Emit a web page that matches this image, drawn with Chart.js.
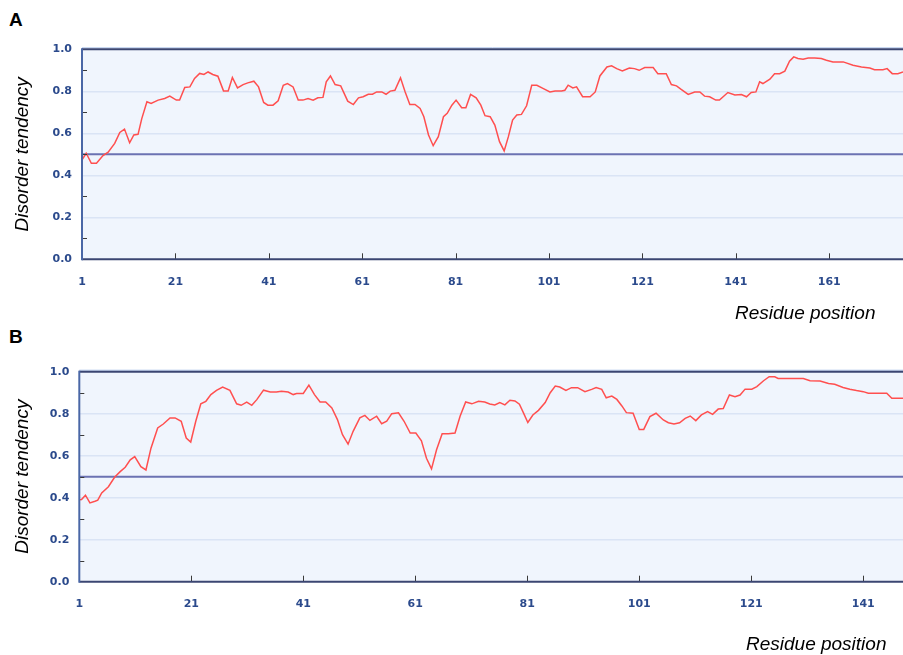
<!DOCTYPE html>
<html>
<head>
<meta charset="utf-8">
<script src="https://cdn.jsdelivr.net/npm/chart.js@4.4.1/dist/chart.umd.min.js"></script>
<style>
  html, body { margin: 0; padding: 0; background: #fff; }
  body { position: relative; width: 903px; height: 655px; overflow: hidden; }
  canvas { position: absolute; left: 0; }
  #chartA { top: 0; }
  #chartB { top: 325px; }
  .letter { position: absolute; left: 9px; font: bold 19px "Liberation Sans", Arial, sans-serif; line-height: 19px; color: #000; }
  .xtitle { position: absolute; font: italic 19px "Liberation Sans", Arial, sans-serif; line-height: 19px; color: #000; white-space: nowrap; }
</style>
</head>
<body>
<div class="letter" style="top:10px">A</div>
<div class="letter" style="top:327px">B</div>
<canvas id="chartA" width="903" height="330"></canvas>
<canvas id="chartB" width="903" height="330"></canvas>
<div class="xtitle" style="left:735px; top:303px">Residue position</div>
<div class="xtitle" style="left:746px; top:634px">Residue position</div>
<script>
// panel A
const residuesA = [1, 1.9, 3, 4.1, 5.5, 6.6, 8, 9.1, 10.1, 11.2, 12.1, 13, 13.8, 14.9, 15.8, 17.3, 18.7, 19.8,
  21.2, 21.9, 23, 24.1, 25.1, 26.2, 27.1, 28, 29, 30.1, 31.3, 32.3, 33.2, 34.3, 35.5, 36.5, 37.8, 38.8, 39.9,
  40.8, 41.9, 43, 44.1, 45, 46.2, 47.3, 48.3, 49.4, 50.5, 51.5, 52.6, 53.3, 54.2, 55.2, 56.4, 57.9, 59.1, 60.2,
  61.2, 62.3, 63.2, 64.1, 65.2, 66.1, 67, 68, 69.2, 70.2, 71.2, 72.3, 73.4, 74.2, 75.2, 76.2, 77.3, 78.4, 79.2,
  80.2, 81.1, 82.3, 83.2, 84.2, 85.4, 86.4, 87.3, 88.4, 89.4, 90.4, 91.4, 92.3, 93.2, 94.1, 95.1, 96.2, 97.3,
  98.4, 99.8, 101.2, 102.3, 103.7, 104.4, 105.1, 106.1, 106.9, 108.2, 109.8, 110.9, 111.9, 113.4, 114.4, 115.5,
  116.7, 118.2, 119.3, 120.3, 121.5, 123.3, 124.3, 126.1, 127.2, 128.3, 129.3, 130.8, 132.2, 133.3, 134.3, 135.4,
  136.7, 137.5, 139.3, 140.8, 142.2, 143.3, 144.3, 145.3, 146.1, 146.8, 148.3, 149.3, 150.4, 151.5, 152.5, 153.4,
  154.3, 155.4, 156.5, 157.9, 159.3, 160.4, 161.8, 164, 166.1, 167.9, 169.7, 170.7, 172.5, 173.4, 174.5, 175.7, 176.8];
const tendencyA = [0.473, 0.505, 0.457, 0.457, 0.494, 0.51, 0.552, 0.604, 0.62, 0.555, 0.592, 0.595, 0.67, 0.75,
  0.742, 0.758, 0.766, 0.777, 0.758, 0.758, 0.818, 0.821, 0.861, 0.885, 0.88, 0.892, 0.88, 0.872, 0.802, 0.802,
  0.866, 0.816, 0.832, 0.84, 0.848, 0.821, 0.747, 0.734, 0.734, 0.755, 0.829, 0.837, 0.821, 0.758, 0.758, 0.766,
  0.758, 0.769, 0.771, 0.845, 0.873, 0.832, 0.826, 0.753, 0.737, 0.769, 0.774, 0.786, 0.786, 0.797, 0.797, 0.786,
  0.801, 0.805, 0.864, 0.797, 0.737, 0.737, 0.718, 0.679, 0.592, 0.541, 0.584, 0.679, 0.695, 0.734, 0.758, 0.722,
  0.722, 0.785, 0.769, 0.734, 0.684, 0.679, 0.639, 0.56, 0.516, 0.584, 0.663, 0.687, 0.69, 0.731, 0.829, 0.829,
  0.813, 0.797, 0.801, 0.802, 0.805, 0.829, 0.816, 0.821, 0.774, 0.774, 0.797, 0.873, 0.916, 0.921, 0.908, 0.897,
  0.911, 0.908, 0.9, 0.913, 0.913, 0.884, 0.884, 0.832, 0.826, 0.809, 0.785, 0.797, 0.797, 0.777, 0.774, 0.758,
  0.758, 0.794, 0.782, 0.785, 0.774, 0.794, 0.797, 0.845, 0.837, 0.858, 0.884, 0.884, 0.896, 0.943, 0.964, 0.956,
  0.953, 0.959, 0.959, 0.956, 0.948, 0.94, 0.94, 0.924, 0.916, 0.911, 0.903, 0.903, 0.908, 0.884, 0.884, 0.892];

// panel B
const residuesB = [1, 1.4, 2.1, 2.9, 3.8, 4.3, 5, 6.2, 7.3, 8.3, 9.2, 10.1, 10.9, 12, 12.9, 13.8, 15, 16, 17.2,
  18.1, 19.2, 20.1, 20.9, 21.8, 22.7, 23.6, 24.5, 25.5, 26.6, 27.9, 29.1, 29.9, 30.9, 31.8, 32.7, 33.9, 35.1,
  36.2, 37.1, 38.3, 39.2, 39.8, 41, 42, 43, 44, 45, 46.1, 47.1, 48, 49, 49.9, 51.1, 52, 52.9, 54.1, 55, 55.9,
  56.8, 58, 59, 60.1, 61.1, 62.1, 63, 63.9, 64.8, 65.8, 66.9, 68.1, 69, 70, 71.1, 72.3, 73.4, 74.3, 75.2, 76.1,
  77, 77.9, 78.8, 79.6, 80.3, 81.1, 82, 83, 84.2, 85.1, 86, 86.8, 87.9, 88.9, 90, 91.3, 92.5, 93.3, 94.3, 95.1,
  96.1, 97, 97.9, 98.7, 99.9, 101, 101.8, 102.9, 104, 105.3, 106.2, 107.2, 108.2, 109.2, 110.1, 111.1, 112.1,
  113.2, 114.1, 115.1, 116, 117.1, 118.1, 119, 119.9, 121.1, 122, 123.2, 124.2, 125.2, 125.8, 127.9, 130.3,
  131.5, 133.3, 134.8, 135.9, 137.4, 138.6, 139.8, 141, 141.9, 144, 145.2, 146.1, 148.1];
const tendencyB = [0.39, 0.391, 0.412, 0.375, 0.383, 0.388, 0.423, 0.452, 0.497, 0.524, 0.545, 0.58, 0.596, 0.548,
  0.532, 0.636, 0.732, 0.751, 0.78, 0.78, 0.764, 0.684, 0.665, 0.764, 0.847, 0.859, 0.891, 0.911, 0.927, 0.911,
  0.847, 0.84, 0.855, 0.84, 0.867, 0.912, 0.903, 0.903, 0.907, 0.903, 0.891, 0.896, 0.896, 0.936, 0.891, 0.856,
  0.856, 0.827, 0.772, 0.7, 0.655, 0.716, 0.78, 0.792, 0.768, 0.788, 0.752, 0.764, 0.8, 0.804, 0.764, 0.708,
  0.708, 0.671, 0.588, 0.537, 0.628, 0.704, 0.704, 0.708, 0.788, 0.856, 0.847, 0.859, 0.856, 0.846, 0.842, 0.853,
  0.842, 0.864, 0.861, 0.845, 0.805, 0.758, 0.794, 0.816, 0.853, 0.9, 0.932, 0.927, 0.911, 0.924, 0.924, 0.905,
  0.916, 0.925, 0.916, 0.876, 0.884, 0.868, 0.837, 0.805, 0.802, 0.725, 0.725, 0.786, 0.802, 0.77, 0.757, 0.751,
  0.757, 0.778, 0.789, 0.767, 0.794, 0.81, 0.797, 0.822, 0.825, 0.889, 0.881, 0.889, 0.917, 0.917, 0.929, 0.957,
  0.976, 0.976, 0.968, 0.968, 0.968, 0.957, 0.956, 0.944, 0.94, 0.925, 0.916, 0.91, 0.905, 0.897, 0.897, 0.897,
  0.873, 0.873];

const xTicksA = [1, 21, 41, 61, 81, 101, 121, 141, 161];
const xTicksB = [1, 21, 41, 61, 81, 101, 121, 141];
const xRangeA = [1, 176.8];
const xRangeB = [1, 148.1];
const yTicks = [0, 0.2, 0.4, 0.6, 0.8, 1.0];
const yMinorTicks = [0.1, 0.3, 0.5, 0.7, 0.9];
const cutoff = 0.5;

const tickColor = '#2b4a8c';
const tickFont = { family: 'DejaVu Sans', size: 11, weight: 'bold' };

// background, inner ticks and frame of the plot box
const plotFrame = {
  id: 'plotFrame',
  beforeDraw(chart) {
    const { ctx, chartArea: a } = chart;
    ctx.save();
    ctx.fillStyle = '#f0f5fd';
    ctx.fillRect(a.left, a.top, a.right - a.left, a.bottom - a.top);
    ctx.restore();
  },
  afterDraw(chart) {
    const { ctx, chartArea: a, scales } = chart;
    const seg = (x1, y1, x2, y2) => { ctx.beginPath(); ctx.moveTo(x1, y1); ctx.lineTo(x2, y2); ctx.stroke(); };
    ctx.save();
    ctx.strokeStyle = '#3a3a3a';
    ctx.lineWidth = 1;
    yMinorTicks.forEach(v => {
      const y = Math.round(scales.y.getPixelForValue(v)) + 0.5;
      seg(a.left, y, a.left + 5, y);
    });
    scales.x.ticks.forEach(t => {
      if (t.value <= scales.x.min) return;
      const x = Math.round(scales.x.getPixelForValue(t.value)) + 0.5;
      seg(x, a.bottom, x, a.bottom - 6);
    });
    ctx.lineWidth = 1;
    ctx.strokeStyle = '#b3c8ec';
    seg(a.left, a.top - 1.5, a.right, a.top - 1.5);
    ctx.lineWidth = 2;
    ctx.strokeStyle = '#3b4672';
    seg(a.left, a.top, a.right, a.top);
    seg(a.left, a.bottom, a.right, a.bottom);
    ctx.strokeStyle = '#4a67a6';
    seg(a.left, a.top - 1, a.left, a.bottom + 1);
    ctx.restore();
  }
};

function crearGrafica(canvasId, residues, tendency, xTicks, xRange, box) {
  const points = residues.map((r, i) => ({ x: r, y: tendency[i] }));
  const cutoffLine = xRange.map(r => ({ x: r, y: cutoff }));
  const xAxisHeight = 30;
  const canvas = document.getElementById(canvasId);

  return new Chart(canvas.getContext('2d'), {
    type: 'line',
    data: {
      datasets: [
        { data: points, borderColor: '#ff4f4f', borderWidth: 1.5, pointRadius: 0, tension: 0 },
        { data: cutoffLine, borderColor: '#6b72b2', borderWidth: 2, pointRadius: 0 }
      ]
    },
    options: {
      responsive: false,
      animation: false,
      events: [],
      layout: { padding: { top: box.top, right: 0, left: 0, bottom: box.height - box.bottom - xAxisHeight } },
      plugins: { legend: { display: false }, tooltip: { enabled: false } },
      scales: {
        x: {
          type: 'linear',
          min: xRange[0],
          max: xRange[1],
          afterBuildTicks: s => { s.ticks = xTicks.map(v => ({ value: v })); },
          afterFit: s => { s.height = xAxisHeight; },
          grid: { display: false },
          border: { display: false },
          ticks: { color: tickColor, font: tickFont, padding: 8, maxRotation: 0, autoSkip: false }
        },
        y: {
          min: 0,
          max: 1,
          afterBuildTicks: s => { s.ticks = yTicks.map(v => ({ value: v })); },
          afterFit: s => { s.width = box.left; },
          grid: {
            drawTicks: false,
            lineWidth: 1.5,
            color: c => (c.tick && c.tick.value > 0 && c.tick.value < 1) ? '#dae4f5' : 'rgba(0,0,0,0)'
          },
          border: { display: false },
          ticks: { color: tickColor, font: tickFont, padding: 10, callback: v => v.toFixed(1) },
          title: {
            display: true,
            text: 'Disorder tendency',
            color: '#000',
            font: { family: 'Liberation Sans', size: 19, style: 'italic' },
            padding: { top: 11, bottom: 0 }
          }
        }
      }
    },
    plugins: [plotFrame]
  });
}

document.addEventListener('DOMContentLoaded', function() {
  crearGrafica('chartA', residuesA, tendencyA, xTicksA, xRangeA, { top: 49.3, bottom: 259.3, left: 82, height: 330 });
  crearGrafica('chartB', residuesB, tendencyB, xTicksB, xRangeB, { top: 46.7, bottom: 256.7, left: 79.3, height: 330 });
});
</script>
</body>
</html>
